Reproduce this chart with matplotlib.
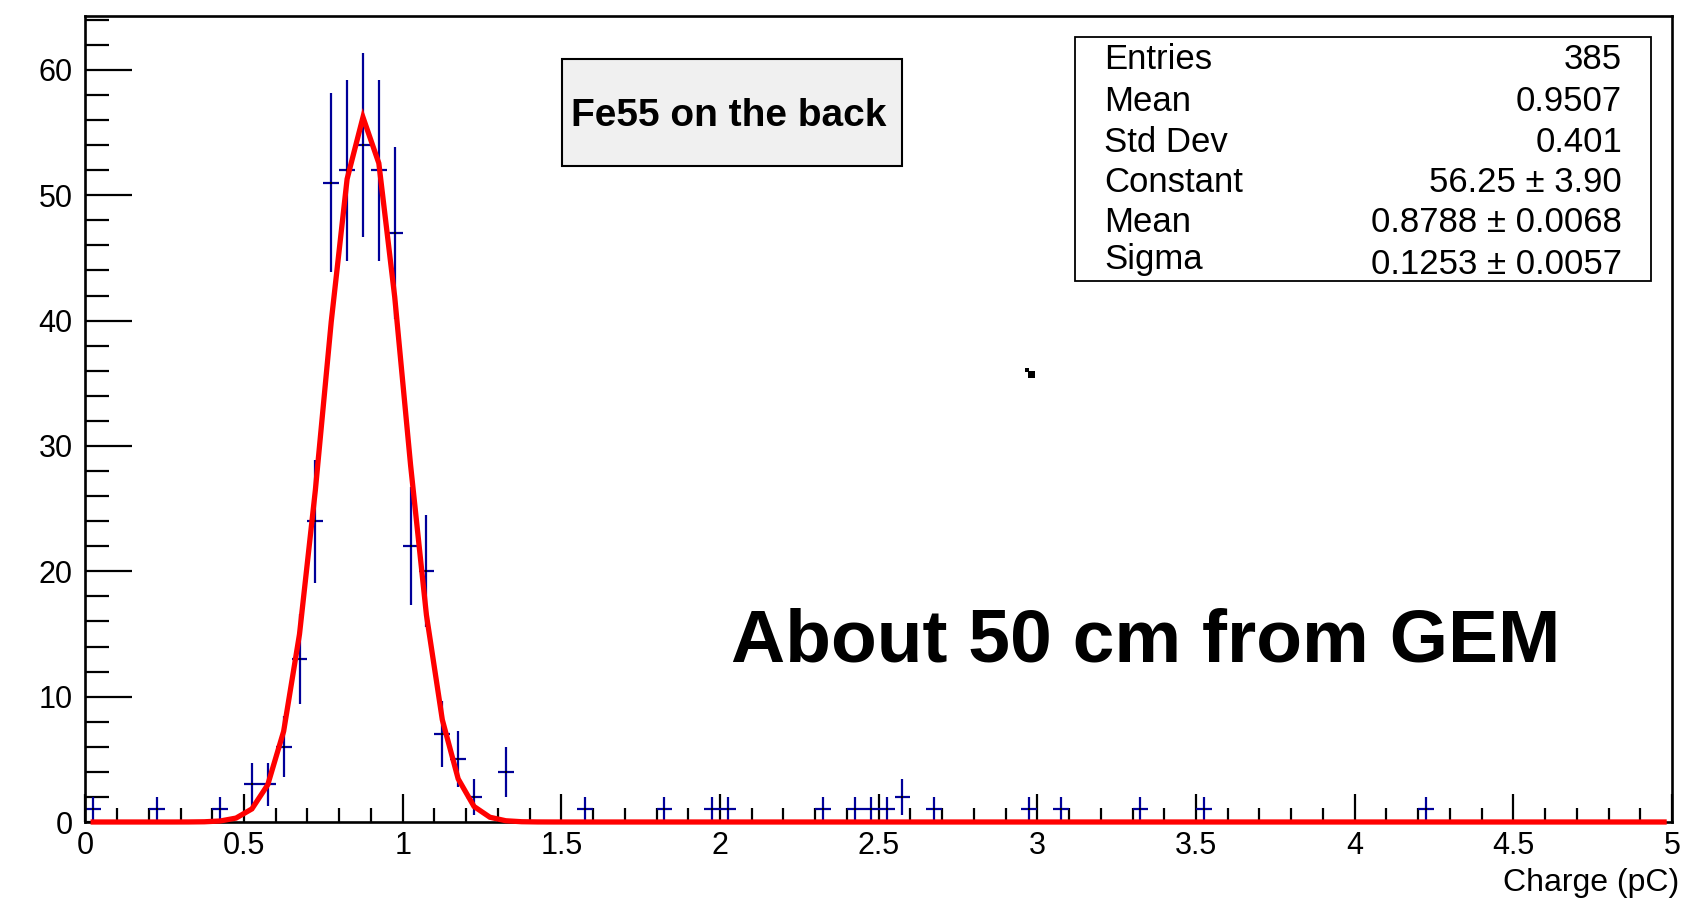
import matplotlib
matplotlib.use("Agg")
import matplotlib.pyplot as plt
import numpy as np
from matplotlib.ticker import MultipleLocator, FuncFormatter
from matplotlib.patches import Rectangle

plt.rcParams['font.family'] = ['Liberation Sans', 'DejaVu Sans']

# filled histogram bins (bin centres, bins are 0.05 pC wide)
charge = [0.025, 0.225, 0.425, 0.525, 0.575, 0.625, 0.675, 0.725, 0.775, 0.825,
          0.875, 0.925, 0.975, 1.025, 1.075, 1.125, 1.175, 1.225, 1.325, 1.575,
          1.825, 1.975, 2.025, 2.325, 2.425, 2.475, 2.525, 2.575, 2.675, 2.975,
          3.075, 3.325, 3.525, 4.225]
counts = [1, 1, 1, 3, 3, 6, 13, 24, 51, 52,
          54, 52, 47, 22, 20, 7, 5, 2, 4, 1,
          1, 1, 1, 1, 1, 1, 1, 2, 1, 1,
          1, 1, 1, 1]
bin_width = 0.05
n_bins = 100

# gaussian fit parameters (from the stats box)
fit_const = 56.25
fit_mean = 0.8788
fit_sigma = 0.1253

stats_labels = ["Entries", "Mean", "Std Dev", "Constant", "Mean", "Sigma"]
stats_values = ["385", "0.9507", "0.401", "56.25 \u00b1 3.90",
                "0.8788 \u00b1 0.0068", "0.1253 \u00b1 0.0057"]

W, H = 1692, 902
fig = plt.figure(figsize=(W / 100, H / 100), dpi=100)
ax = fig.add_axes([85.3 / W, 1 - 822 / H, (1672 - 85.3) / W, (822 - 16) / H])

# data with poisson errors
ax.errorbar(charge, counts, xerr=bin_width / 2, yerr=np.sqrt(counts), fmt='none',
            ecolor='#000099', elinewidth=1.6, capsize=0, zorder=2)
ax.plot(charge, counts, 's', color='black', ms=1.6, mew=0, zorder=3)

# fit function drawn like ROOT: evaluated at npx bin centres
xf = (np.arange(n_bins) + 0.5) * bin_width
yf = fit_const * np.exp(-0.5 * ((xf - fit_mean) / fit_sigma) ** 2)
ax.plot(xf, yf, color='#ff0000', lw=3.8, zorder=4, clip_on=False,
        solid_joinstyle='miter')

ax.set_xlim(0, 5)
ax.set_ylim(0, 64.3)
ax.xaxis.set_major_locator(MultipleLocator(0.5))
ax.xaxis.set_minor_locator(MultipleLocator(0.1))
ax.yaxis.set_major_locator(MultipleLocator(10))
ax.yaxis.set_minor_locator(MultipleLocator(2))
ax.xaxis.set_major_formatter(FuncFormatter(lambda v, p: "%g" % v))
ax.yaxis.set_major_formatter(FuncFormatter(lambda v, p: "%g" % v))

ax.tick_params(axis='x', which='major', direction='in', length=20, width=1.6,
               labelsize=22, pad=6.5, top=False)
ax.tick_params(axis='x', which='minor', direction='in', length=10, width=1.6, top=False)
ax.tick_params(axis='y', which='major', direction='in', length=34, width=1.6,
               labelsize=22, pad=9, right=False)
ax.tick_params(axis='y', which='minor', direction='in', length=17, width=1.6, right=False)
for s in ax.spines.values():
    s.set_linewidth(1.9)

fig.text(1679 / W, 1 - 891 / H, "Charge (pC)", ha='right', va='baseline', fontsize=23)

# title-like label box
fig.add_artist(Rectangle((562 / W, 1 - 166 / H), (902 - 562) / W, (166 - 59) / H,
                         transform=fig.transFigure, facecolor='#f0f0f0',
                         edgecolor='black', lw=1.5, zorder=5))
fig.text(728.5 / W, 1 - 126 / H, "Fe55 on the back", ha='center', va='baseline',
         fontsize=28, fontweight='bold', zorder=6)

# stats box
fig.add_artist(Rectangle((1075 / W, 1 - 281 / H), (1651 - 1075) / W, (281 - 37) / H,
                         transform=fig.transFigure, facecolor='white',
                         edgecolor='black', lw=1.3, zorder=5))
label_base = [69, 111, 152, 192, 232, 269]
value_base = [69, 111, 152, 192, 232, 274]
for i in range(len(stats_labels)):
    fig.text(1104 / W, 1 - label_base[i] / H, stats_labels[i], ha='left',
             va='baseline', fontsize=25, zorder=6)
    fig.text(1622 / W, 1 - value_base[i] / H, stats_values[i], ha='right',
             va='baseline', fontsize=25, zorder=6)

fig.text(1146 / W, 1 - 661 / H, "About 50 cm from GEM", ha='center', va='baseline',
         fontsize=54, fontweight='bold')

# small stray speck in the original
fig.add_artist(Rectangle((1028 / W, 1 - 378 / H), 7 / W, 7 / H,
                         transform=fig.transFigure, color='black', lw=0))
fig.add_artist(Rectangle((1025 / W, 1 - 372 / H), 4 / W, 4 / H,
                         transform=fig.transFigure, color='black', lw=0))

fig.savefig("out.png", dpi=100)
